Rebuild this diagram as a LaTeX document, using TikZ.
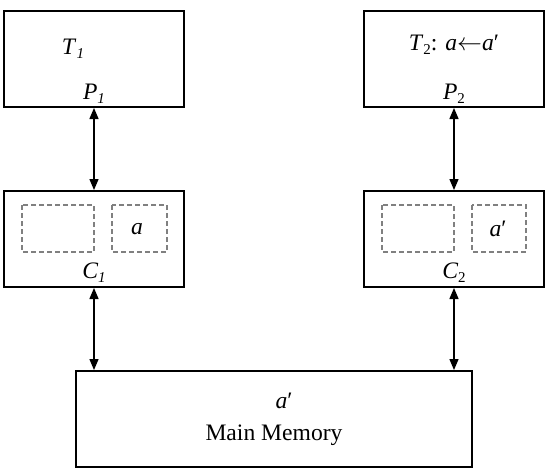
\documentclass[tikz,border=0pt]{standalone}
\usepackage{fontspec}
\setmainfont{Liberation Serif}
\usetikzlibrary{arrows.meta}
\newcommand{\sbs}[1]{\raisebox{-0.35ex}{\fontsize{15}{17}\selectfont #1}}
\begin{document}
\begin{tikzpicture}[x=1pt,y=-1pt,
  box/.style={draw,line width=2pt},
  cell/.style={draw=gray,line width=1.1pt,dash pattern=on 5pt off 3pt},
  lbl/.style={font=\fontsize{23.6}{27}\selectfont,inner sep=0pt},
  link/.style={line width=1.4pt,{Triangle[length=11pt,width=9pt]}-{Triangle[length=11pt,width=9pt]}}]
\useasboundingbox (0,0) rectangle (550,472);
% boxes
\draw[box] (4,11) rectangle (184,107);
\draw[box] (364,11) rectangle (544,107);
\draw[box] (4,191) rectangle (184,287);
\draw[box] (364,191) rectangle (544,287);
\draw[box] (76,371) rectangle (472,467);
% cells
\draw[cell] (22,205) rectangle (94,252);
\draw[cell] (112,205) rectangle (167,252);
\draw[cell] (382,205) rectangle (454,252);
\draw[cell] (472,205) rectangle (526,252);
% anchor coordinates
\coordinate (p1) at (94,108);
\coordinate (c1t) at (94,190);
\coordinate (c1b) at (94,288);
\coordinate (m1) at (94,370);
\coordinate (p2) at (454,108);
\coordinate (c2t) at (454,190);
\coordinate (c2b) at (454,288);
\coordinate (m2) at (454,370);
\draw[link] (p1) -- (c1t);
\draw[link] (c1b) -- (m1);
\draw[link] (p2) -- (c2t);
\draw[link] (c2b) -- (m2);
% labels
\node[lbl] (t1) at (73,49) {\textit{T}\sbs{\textit{1}}};
\node[lbl] (pl1) at (94,94) {\textit{P}\sbs{\textit{1}}};
\node[lbl] (t2) at (454,45) {\textit{T}\sbs{2}: \textit{a}$\leftarrow$\textit{a}′};
\node[lbl] (pl2) at (454,94) {\textit{P}\sbs{2}};
\node[lbl] (ca) at (137,229) {\textit{a}};
\node[lbl] (cb) at (498,229) {\textit{a}′};
\node[lbl] (cl1) at (94,273) {\textit{C}\sbs{\textit{1}}};
\node[lbl] (cl2) at (454,273) {\textit{C}\sbs{2}};
\node[lbl] (ma) at (284,401) {\textit{a}′};
\node[lbl] (mm) at (274,435) {Main Memory};
\end{tikzpicture}
\end{document}
